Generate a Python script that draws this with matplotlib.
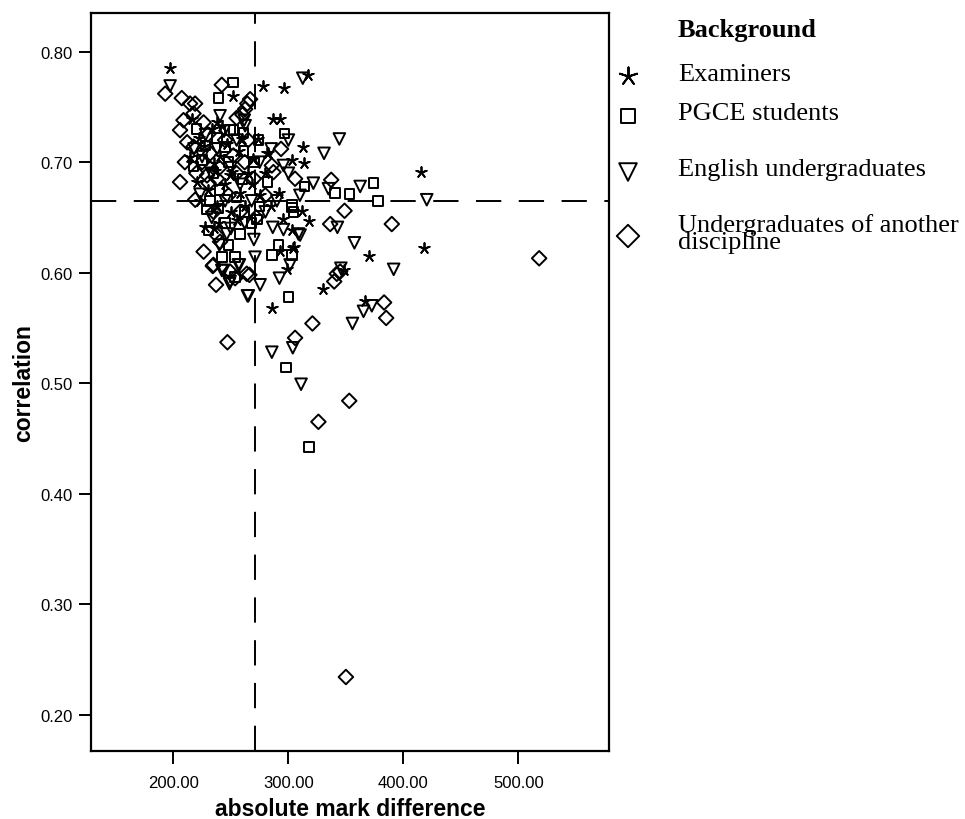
import numpy as np
import matplotlib.pyplot as plt

# Background groups, values
examiners_x = [197, 278, 296.5, 317, 252, 287, 293, 312.5, 303, 314, 415, 318, 311.6, 295.7,
               304.3, 303, 370, 417.5, 348, 330.4, 366.7, 285.6, 298.6, 292.8, 305.2, 282.6,
               274, 259.5, 216, 237.7, 233.4, 242, 226.3, 214.5, 220.4, 249.3, 227.6, 234.9,
               240.6, 250.8, 234.9, 269.6, 281.2, 245, 258, 265, 238, 250, 262, 230, 268, 275,
               285, 223, 240, 255, 292, 280, 257, 222, 247, 236]
examiners_y = [0.785, 0.769, 0.767, 0.779, 0.760, 0.739, 0.739, 0.714, 0.702, 0.699, 0.691,
               0.647, 0.656, 0.649, 0.622, 0.639, 0.615, 0.622, 0.602, 0.585, 0.574, 0.568,
               0.603, 0.620, 0.623, 0.708, 0.721, 0.721, 0.739, 0.736, 0.730, 0.733, 0.715,
               0.705, 0.682, 0.688, 0.641, 0.640, 0.706, 0.691, 0.699, 0.703, 0.708, 0.680,
               0.672, 0.690, 0.660, 0.655, 0.660, 0.675, 0.680, 0.670, 0.660, 0.665, 0.645,
               0.648, 0.672, 0.690, 0.710, 0.722, 0.716, 0.692]

pgce_x = [252, 239.2, 252.2, 260.9, 249.3, 245, 224.7, 217.5, 260.9, 273.9, 296.7, 314,
          340.7, 353, 373.9, 377.7, 303, 304.3, 272.5, 291.3, 303, 285.6, 300, 297.7, 318,
          229, 239.2, 230.5, 247.8, 242.1, 253.7, 253.7, 303, 235, 248, 255, 262, 270, 228,
          240, 260, 232, 245, 275, 282, 268, 258, 220, 238]
pgce_y = [0.772, 0.758, 0.729, 0.727, 0.729, 0.714, 0.702, 0.696, 0.710, 0.720, 0.726,
          0.678, 0.672, 0.671, 0.681, 0.665, 0.661, 0.655, 0.648, 0.625, 0.616, 0.616,
          0.578, 0.514, 0.442, 0.657, 0.658, 0.638, 0.625, 0.614, 0.614, 0.596, 0.659,
          0.690, 0.700, 0.668, 0.655, 0.700, 0.715, 0.675, 0.685, 0.665, 0.645, 0.660,
          0.682, 0.645, 0.635, 0.730, 0.722]

english_x = [197.2, 312.5, 261.6, 262.4, 240.6, 300, 344.3, 331, 295.7, 321.7, 334.8, 362.4,
             420.3, 342.6, 357.4, 310.2, 286.4, 295.7, 308.7, 391.5, 345.6, 372.5, 365.3,
             355.7, 303.8, 285.6, 311, 265.2, 275.4, 243.5, 248.8, 292.2, 301.5, 257.4,
             233.4, 246.4, 256.5, 242.1, 249.3, 264.4, 271, 223.2, 225, 238, 250, 258, 268,
             280, 290, 245, 233, 262, 275, 285, 300, 310, 255, 228, 270, 240, 250, 218, 244]
english_y = [0.769, 0.776, 0.738, 0.733, 0.742, 0.720, 0.721, 0.708, 0.697, 0.681, 0.676,
             0.678, 0.666, 0.641, 0.627, 0.634, 0.641, 0.639, 0.635, 0.603, 0.604, 0.570,
             0.565, 0.554, 0.532, 0.528, 0.499, 0.579, 0.589, 0.602, 0.590, 0.595, 0.607,
             0.607, 0.650, 0.635, 0.607, 0.602, 0.592, 0.579, 0.614, 0.671, 0.705, 0.712,
             0.695, 0.680, 0.665, 0.655, 0.665, 0.665, 0.690, 0.645, 0.700, 0.712, 0.690,
             0.670, 0.720, 0.725, 0.630, 0.625, 0.640, 0.712, 0.728]

other_x = [192.9, 207.3, 214.5, 218.9, 242.1, 266.7, 264.3, 262.4, 260, 208.8, 205.8, 217.5,
           226.3, 217.5, 252.2, 205.8, 229.2, 237.9, 230.7, 293.6, 285.6, 287, 305.8, 337.2,
           348.8, 389.9, 336.3, 342.1, 339.8, 383.2, 385, 320.9, 305.8, 247, 352.9, 326.1,
           350, 518, 237.1, 234.3, 253.7, 266.1, 219, 237.7, 240.6, 226.3, 234.8, 249.3,
           263.8, 345, 225, 240, 255, 248, 262, 270, 235, 258, 245, 230, 272, 280, 220, 210,
           265, 255, 212, 232]
other_y = [0.762, 0.758, 0.753, 0.753, 0.770, 0.757, 0.753, 0.748, 0.743, 0.738, 0.729,
           0.744, 0.736, 0.714, 0.706, 0.682, 0.688, 0.685, 0.681, 0.712, 0.697, 0.691,
           0.685, 0.684, 0.656, 0.644, 0.644, 0.599, 0.592, 0.573, 0.559, 0.554, 0.541,
           0.537, 0.484, 0.465, 0.234, 0.613, 0.589, 0.606, 0.595, 0.598, 0.666, 0.634,
           0.628, 0.619, 0.607, 0.601, 0.599, 0.601, 0.700, 0.695, 0.690, 0.670, 0.700,
           0.685, 0.655, 0.655, 0.720, 0.725, 0.650, 0.670, 0.690, 0.700, 0.720, 0.740,
           0.718, 0.708]

group_names = ['Examiners', 'PGCE students', 'English undergraduates',
               'Undergraduates of another\ndiscipline']
mean_diff = 271
mean_corr = 0.665

fig = plt.figure(figsize=(9.65, 8.2), dpi=100)
ax = fig.add_axes([0.0943, 0.0829, 0.537, 0.900])

star = (5, 2, 0)
groups = [
    (examiners_x, examiners_y, star, 60),
    (pgce_x, pgce_y, 's', 48),
    (english_x, english_y, 'v', 70),
    (other_x, other_y, 'D', 55),
]
for gx, gy, m, s in groups:
    if m == star:
        ax.scatter(gx, gy, marker=m, s=s, c='black', linewidths=1.3)
    else:
        ax.scatter(gx, gy, marker=m, s=s, facecolors='none', edgecolors='black',
                   linewidths=1.4)

# reference lines at the means
ax.axvline(mean_diff, color='black', lw=1.4, ls=(0, (13, 9)), zorder=0)
ax.axhline(mean_corr, color='black', lw=1.4, ls=(0, (13, 9)), zorder=0)

ax.set_xlim(128.4, 578.9)
ax.set_ylim(0.167, 0.835)
xt = [200, 300, 400, 500]
yt = [0.2, 0.3, 0.4, 0.5, 0.6, 0.7, 0.8]
ax.set_xticks(xt)
ax.set_yticks(yt)
ax.set_xticklabels(['%.2f' % v for v in xt], family='Liberation Sans', fontsize=12)
ax.set_yticklabels(['%.2f' % v for v in yt], family='Liberation Sans', fontsize=12)
ax.tick_params(direction='out', length=9, width=1.4, pad=4)
ax.tick_params(axis='x', pad=8)
for sp in ax.spines.values():
    sp.set_linewidth(1.6)

ax.set_xlabel('absolute mark difference', family='Liberation Sans', fontweight='bold',
              fontsize=16.5, labelpad=5)
ax.set_ylabel('correlation', family='Liberation Sans', fontweight='bold', fontsize=16.5,
              labelpad=4)

# legend to the right of the plot, placed in pixel coordinates
lax = fig.add_axes([0, 0, 1, 1])
lax.set_xlim(0, 965)
lax.set_ylim(820, 0)
lax.axis('off')
lax.text(678, 30, 'Background', family='Liberation Serif', fontweight='bold',
         fontsize=19, va='center')
leg_rows = [75, 114, 170, 234]
leg_sizes = [170, 110, 160, 130]
for (gx, gy, m, s), name, ry, ls in zip(groups, group_names, leg_rows, leg_sizes):
    if m == star:
        lax.scatter([628], [ry + 2], marker=m, s=ls, c='black', linewidths=1.4)
    else:
        lax.scatter([628], [ry + 3], marker=m, s=ls, facecolors='none', edgecolors='black',
                    linewidths=1.4)
    lax.text(678, ry, name, family='Liberation Serif', fontsize=19, va='center',
             linespacing=0.72)

fig.savefig('out.png', dpi=100)
